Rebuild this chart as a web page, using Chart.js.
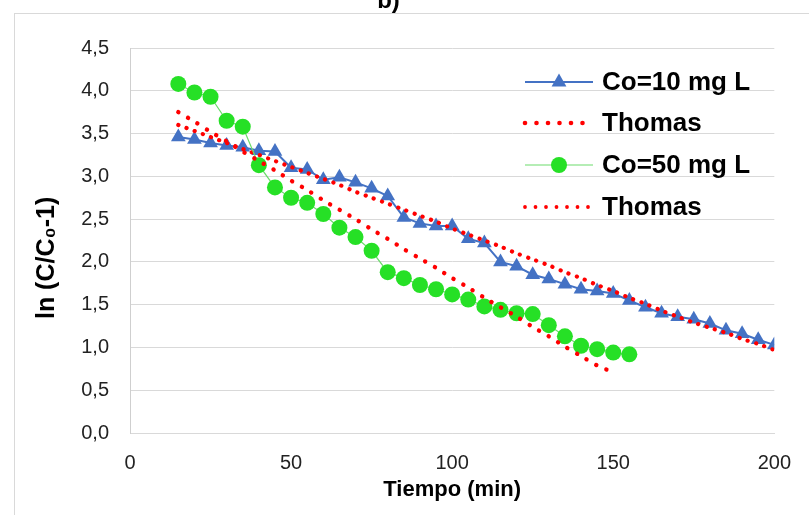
<!DOCTYPE html>
<html>
<head>
<meta charset="utf-8">
<script src="https://cdn.jsdelivr.net/npm/chart.js@4.4.1/dist/chart.umd.min.js"></script>
<style>
html,body{margin:0;padding:0;background:#ffffff;overflow:hidden}
#wrap{position:absolute;left:0;top:0;width:809px;height:515px}
</style>
</head>
<body>
<div id="wrap"><canvas id="c" width="809" height="515"></canvas></div>
<script>
// ---- data ----
const chartTitle = 'b)';
const xTitle = 'Tiempo (min)';
const yTitle = 'ln (C/C\u2080-1)\u00A0\u00A0\u00A0\u00A0\u00A0';
const seriesNames = ['Co=10 mg L', 'Thomas', 'Co=50 mg L', 'Thomas'];

const timeCo10 = [15,20,25,30,35,40,45,50,55,60,65,70,75,80,85,90,95,100,105,110,115,120,125,130,135,140,145,150,155,160,165,170,175,180,185,190,195,200];
const valCo10  = [3.46,3.43,3.39,3.36,3.34,3.30,3.29,3.10,3.08,2.96,2.99,2.93,2.86,2.77,2.52,2.45,2.42,2.42,2.27,2.22,2.00,1.95,1.85,1.80,1.74,1.68,1.66,1.63,1.55,1.47,1.40,1.36,1.33,1.28,1.20,1.16,1.09,1.03];

const timeThomas10 = [15,20,25,30,35,40,45,50,55,60,65,70,75,80,85,90,95,100,105,110,115,120,125,130,135,140,145,150,155,160,165,170,175,180,185,190,195,200];
const valThomas10  = [3.60,3.53,3.46,3.39,3.32,3.25,3.18,3.11,3.04,2.97,2.90,2.82,2.75,2.68,2.61,2.54,2.47,2.39,2.32,2.25,2.18,2.10,2.03,1.96,1.88,1.81,1.73,1.66,1.58,1.51,1.43,1.36,1.29,1.23,1.17,1.10,1.04,0.97];

const timeCo50 = [15,20,25,30,35,40,45,50,55,60,65,70,75,80,85,90,95,100,105,110,115,120,125,130,135,140,145,150,155];
const valCo50  = [4.08,3.98,3.93,3.65,3.58,3.13,2.87,2.75,2.69,2.56,2.40,2.29,2.13,1.88,1.81,1.73,1.68,1.62,1.56,1.48,1.44,1.40,1.39,1.26,1.13,1.02,0.98,0.94,0.92];

const timeThomas50 = [15,20,25,30,35,40,45,50,55,60,65,70,75,80,85,90,95,100,105,110,115,120,125,130,135,140,145,150];
const valThomas50  = [3.75,3.64,3.52,3.41,3.29,3.18,3.07,2.95,2.84,2.72,2.61,2.50,2.38,2.27,2.15,2.04,1.93,1.81,1.70,1.58,1.47,1.36,1.24,1.13,1.01,0.90,0.79,0.71];

const xTickValues = [0,50,100,150,200];
const yTickLabels = ['0,0','0,5','1,0','1,5','2,0','2,5','3,0','3,5','4,0','4,5'];

// ---- styling ----
const FONT = '"Liberation Sans", Arial, sans-serif';
const BLUE = '#4472C4';
const GREEN_PT = '#26E026';
const GREEN_LN = '#6CDC6C';
const RED = '#FF0000';
const GRID = '#D9D9D9';

function pts(xs, ys){ return xs.map((x,i)=>({x:x, y:ys[i]})); }

const framePlugin = {
  id: 'frame',
  beforeDraw(chart){
    const ctx = chart.ctx;
    ctx.save();
    ctx.strokeStyle = GRID;
    ctx.lineWidth = 1;
    ctx.strokeRect(14.5, 13.5, 820, 540);
    ctx.restore();
  }
};

const legendPlugin = {
  id: 'inlineLegend',
  afterDraw(chart){
    const ctx = chart.ctx;
    const rows = [
      {y: 82,  kind: 'tri'},
      {y: 123, kind: 'dot', w: 4.6, gap: 11.5},
      {y: 165, kind: 'circ'},
      {y: 207, kind: 'dot', w: 3.8, gap: 10.5}
    ];
    const x0 = 525, x1 = 593, xm = 559, xt = 602;
    ctx.save();
    rows.forEach((r, i) => {
      if (r.kind === 'tri' || r.kind === 'circ') {
        ctx.beginPath();
        ctx.strokeStyle = r.kind === 'tri' ? BLUE : GREEN_LN;
        ctx.lineWidth = r.kind === 'tri' ? 2 : 1.2;
        ctx.moveTo(x0, r.y); ctx.lineTo(x1, r.y); ctx.stroke();
        ctx.fillStyle = r.kind === 'tri' ? BLUE : GREEN_PT;
        ctx.beginPath();
        if (r.kind === 'tri') {
          ctx.moveTo(xm, r.y - 8.5);
          ctx.lineTo(xm + 7.4, r.y + 4.5);
          ctx.lineTo(xm - 7.4, r.y + 4.5);
          ctx.closePath();
        } else {
          ctx.arc(xm, r.y, 8, 0, Math.PI * 2);
        }
        ctx.fill();
      } else {
        ctx.fillStyle = RED;
        for (let x = x0; x <= x1 + 0.5; x += r.gap) {
          ctx.beginPath();
          ctx.arc(x, r.y, r.w / 2, 0, Math.PI * 2);
          ctx.fill();
        }
      }
      ctx.fillStyle = '#000000';
      ctx.font = 'bold 26px ' + FONT;
      ctx.textBaseline = 'middle';
      ctx.textAlign = 'left';
      ctx.fillText(seriesNames[i], xt, r.y + 1);
    });
    ctx.restore();
  }
};

new Chart(document.getElementById('c'), {
  type: 'scatter',
  data: {
    datasets: [
      {
        label: seriesNames[0],
        data: pts(timeCo10, valCo10),
        showLine: true,
        borderColor: BLUE,
        borderWidth: 2,
        backgroundColor: BLUE,
        pointStyle: 'triangle',
        pointRadius: 8.5,
        pointBorderWidth: 0,
        pointBackgroundColor: BLUE,
        order: 4
      },
      {
        label: seriesNames[1],
        data: pts(timeThomas10, valThomas10),
        showLine: true,
        borderColor: RED,
        borderWidth: 4.2,
        borderDash: [0.1, 8.6],
        borderCapStyle: 'round',
        pointRadius: 0,
        tension: 0.3,
        order: 3
      },
      {
        label: seriesNames[2],
        data: pts(timeCo50, valCo50),
        showLine: true,
        borderColor: GREEN_LN,
        borderWidth: 1.2,
        backgroundColor: GREEN_PT,
        pointStyle: 'circle',
        pointRadius: 8,
        pointBorderWidth: 0,
        pointBackgroundColor: GREEN_PT,
        order: 2
      },
      {
        label: seriesNames[3],
        data: pts(timeThomas50, valThomas50),
        showLine: true,
        borderColor: RED,
        borderWidth: 4.4,
        borderDash: [0.1, 11],
        borderCapStyle: 'round',
        pointRadius: 0,
        tension: 0.3,
        order: 1
      }
    ]
  },
  options: {
    responsive: false,
    animation: false,
    devicePixelRatio: 1,
    layout: { padding: { left: 0, right: 32, top: 0, bottom: 0 } },
    plugins: {
      legend: { display: false },
      tooltip: { enabled: false },
      title: {
        display: true,
        text: chartTitle,
        color: '#000000',
        font: { family: FONT, size: 24, weight: 'bold', lineHeight: 1.2 },
        padding: { top: -13.4, bottom: 32.6 }
      }
    },
    scales: {
      x: {
        type: 'linear',
        min: 0, max: 200,
        afterFit(s){ s.height = 82; },
        afterBuildTicks(s){ s.ticks = xTickValues.map(v => ({value: v})); },
        grid: { display: false, drawTicks: false },
        border: { display: true, color: GRID, width: 1 },
        ticks: {
          padding: 18,
          color: '#222222',
          font: { family: FONT, size: 20 },
          callback: v => String(v)
        },
        title: {
          display: true,
          text: xTitle,
          color: '#000000',
          font: { family: FONT, size: 22, weight: 'bold', lineHeight: 1.2 },
          padding: { top: 0, bottom: 12 }
        }
      },
      y: {
        type: 'linear',
        min: 0, max: 4.5,
        afterFit(s){ s.width = 130; },
        ticks: {
          stepSize: 0.5,
          padding: 21,
          color: '#222222',
          font: { family: FONT, size: 20 },
          callback: (v) => yTickLabels[Math.round(v / 0.5)]
        },
        grid: { color: GRID, lineWidth: 1, drawTicks: false },
        border: { display: true, color: '#CFCFCF', width: 1 },
        title: {
          display: true,
          text: yTitle,
          color: '#000000',
          font: { family: FONT, size: 25, weight: 'bold', lineHeight: 1.2 },
          padding: { top: 32, bottom: 0 }
        }
      }
    }
  },
  plugins: [framePlugin, legendPlugin]
});
</script>
</body>
</html>
